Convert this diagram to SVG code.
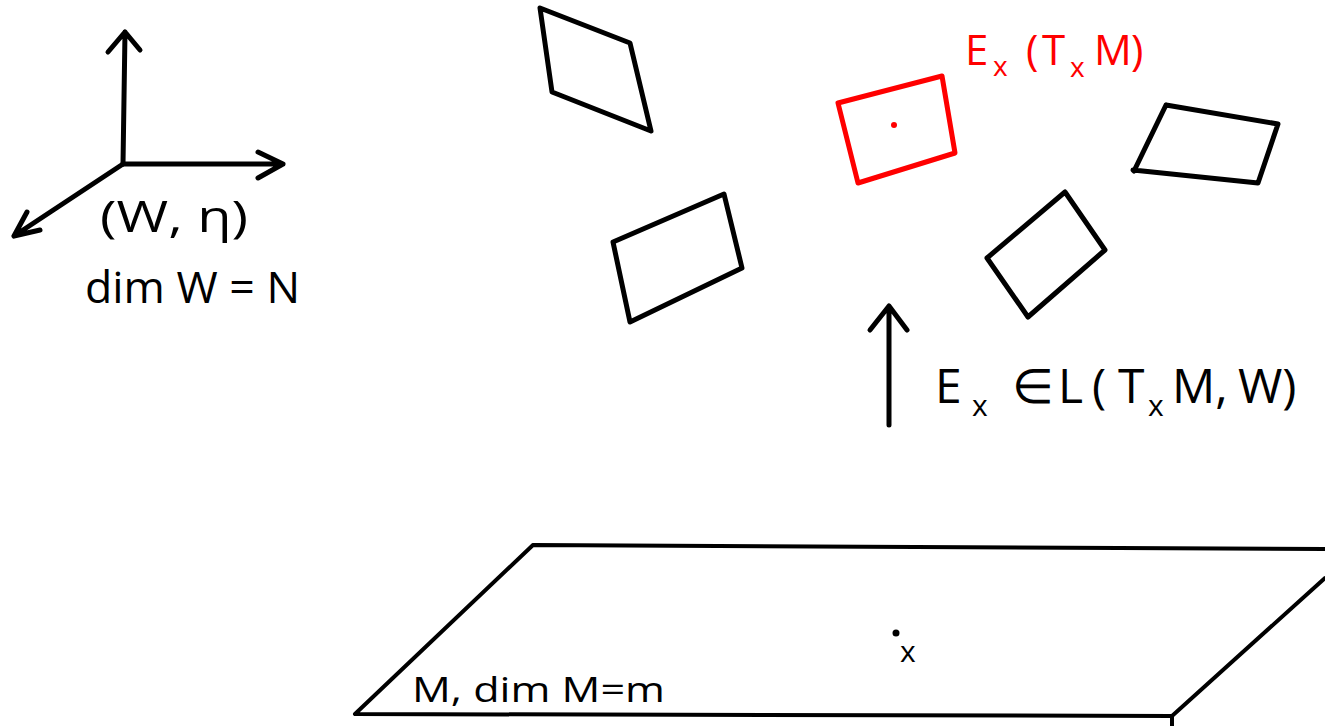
<svg xmlns="http://www.w3.org/2000/svg" width="1325" height="726" viewBox="0 0 1325 726">
<style>
.ln{fill:none;stroke:#000;stroke-width:5;stroke-linecap:round;stroke-linejoin:round}
.pl{fill:none;stroke:#000;stroke-width:4;stroke-linecap:round;stroke-linejoin:round}
.red{fill:none;stroke:#f00;stroke-width:5;stroke-linecap:round;stroke-linejoin:round}
.t{font-family:"Open Sans","Liberation Sans",sans-serif;fill:#000}
.tr{font-family:"Open Sans","Liberation Sans",sans-serif;fill:#f00}
</style>
<rect width="1325" height="726" fill="#fff"/>
<g id="axes">
<path class="ln" d="M123,164 L125,32 M108,52 L125,32 L140,50"/>
<path class="ln" d="M123,164 L283,164 M258,152 L283,164 L258,178"/>
<path class="ln" d="M123,164 L14,236 M27,212 L14,236 L40,230"/>
<text class="t" x="100" y="232" font-size="44" textLength="148" lengthAdjust="spacingAndGlyphs">(W, η)</text>
<text class="t" x="85" y="303" font-size="44" textLength="215" lengthAdjust="spacingAndGlyphs">dim W = N</text>
</g>
<g id="plane1"><path class="ln" d="M540,8 L630,43 L651,131 L552,92 Z"/></g>
<g id="plane2"><path class="ln" d="M613,242 L724,194 L742,268 L630,322 Z"/></g>
<g id="plane-red">
<path class="red" d="M838,103 L942,76 L955,153 L858,183 Z"/>
<circle cx="894" cy="125" r="3" fill="#f00"/>
<text class="tr" font-size="42"><tspan x="965" y="65">E</tspan><tspan x="993" y="76" font-size="28">x</tspan><tspan x="1026" y="65">(</tspan><tspan x="1042" y="65">T</tspan><tspan x="1070" y="77" font-size="28">x</tspan><tspan x="1094" y="65">M</tspan><tspan x="1131" y="65">)</tspan></text>
</g>
<g id="plane3"><path class="ln" d="M1166,105 L1278,124 L1258,183 L1133,170 L1134,171 L1166,105"/></g>
<g id="plane4"><path class="ln" d="M1065,192 L1105,250 L1028,317 L987,258 Z"/></g>
<g id="connectors">
<path class="ln" d="M889,425 L889,306 M870,330 L889,306 L907,330"/>
</g>
<g id="map-label">
<text class="t" font-size="48"><tspan x="935" y="403">E</tspan><tspan x="972" y="416" font-size="30">x</tspan><tspan x="1012" y="403">∈</tspan><tspan x="1058" y="403">L</tspan><tspan x="1092" y="403">(</tspan><tspan x="1118" y="403">T</tspan><tspan x="1148" y="416" font-size="30">x</tspan><tspan x="1172" y="403">M,</tspan><tspan x="1238" y="403">W)</tspan></text>
</g>
<g id="base">
<path class="pl" d="M533,545 L1325,549 M533,545 L355,714 L1172,716 L1325,578 M1172,716 L1172,726"/>
<circle cx="896" cy="633" r="3.5" fill="#000"/>
<text class="t" x="900" y="662" font-size="30">x</text>
<text class="t" x="412" y="702" font-size="34" textLength="253" lengthAdjust="spacingAndGlyphs">M, dim M=m</text>
</g>
</svg>
